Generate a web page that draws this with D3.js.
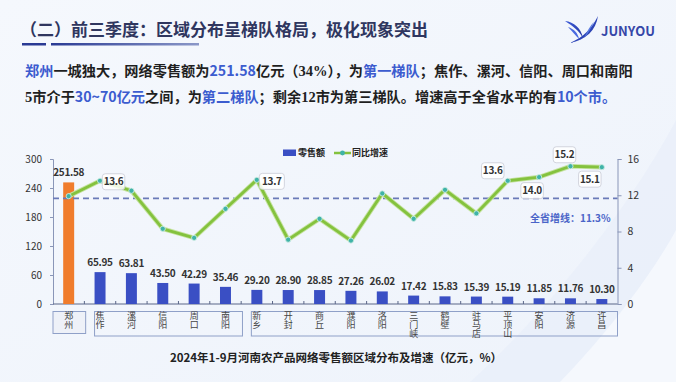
<!DOCTYPE html>
<html><head><meta charset="utf-8">
<script src="https://cdn.jsdelivr.net/npm/d3@7"></script>
<style>
html,body{margin:0;padding:0;background:#f3f7fd;}
svg{display:block;}
text{font-family:"Noto Sans CJK SC","Noto Sans",sans-serif;}
</style></head>
<body>
<svg id="chart" width="676" height="382"></svg>
<script>
// ---------------- data ----------------
const cities = ["郑州","焦作","漯河","信阳","周口","南阳","新乡","开封","商丘","濮阳","洛阳","三门峡","鹤壁","驻马店","平顶山","安阳","济源","许昌"];
const retail = [251.58,65.95,63.81,43.50,42.29,35.46,29.20,28.90,28.85,27.26,26.02,17.42,15.83,15.39,15.19,11.85,11.76,10.30];
const growth = [11.9,13.6,12.5,8.3,7.3,10.5,13.7,7.1,9.4,7.0,12.2,9.4,12.6,10.0,13.6,14.0,15.2,15.1];
const leftTicks = [0,60,120,180,240,300];
const rightTicks = [0,4,8,12,16];
const avgLineLevel = 11.65;          // position of the dashed provincial line as drawn
const avgLabel = "全省增线：11.3%";
const tierGroups = [[0,0],[1,5],[6,17]];
const labelledGrowth = [1,6,14,15,16,17]; // indices with callout labels
const chartTitle = "2024年1-9月河南农产品网络零售额区域分布及增速（亿元，%）";
const heading = "（二）前三季度：区域分布呈梯队格局，极化现象突出";
const legendNames = ["零售额","同比增速"];

// ---------------- layout ----------------
const svg = d3.select("#chart");
const L = 53, R = 617.5, T = 159, B = 304;

// background
const defs = svg.append("defs");
const bg = defs.append("linearGradient").attr("id","bg").attr("x1","0").attr("y1","0").attr("x2","1").attr("y2","1");
bg.append("stop").attr("offset","0").attr("stop-color","#f5f8fd");
bg.append("stop").attr("offset","1").attr("stop-color","#eef3fb");
svg.append("rect").attr("width",676).attr("height",382).attr("fill","url(#bg)");
svg.append("path").attr("d","M470,382 C560,300 640,190 676,120 L676,382 Z").attr("fill","#e8eef9").attr("opacity",0.7);
svg.append("path").attr("d","M560,382 C620,320 660,260 676,230 L676,382 Z").attr("fill","#f8fafe").attr("opacity",0.8);

// heading
svg.append("text").attr("x",20).attr("y",35.5).attr("font-size",17).attr("font-weight",700)
  .attr("fill","#2f365f").text(heading);
const ul = defs.append("linearGradient").attr("id","ul");
ul.append("stop").attr("offset","0").attr("stop-color","#2a3a94");
ul.append("stop").attr("offset","1").attr("stop-color","#8b98c8");
svg.append("rect").attr("x",22).attr("y",43).attr("width",24).attr("height",2.5).attr("fill","#2a3a94");
svg.append("rect").attr("x",51).attr("y",43).attr("width",148).attr("height",2.5).attr("fill","url(#ul)");

// logo
const lg = defs.append("linearGradient").attr("id","lg").attr("x1","0").attr("y1","0").attr("x2","1").attr("y2","1");
lg.append("stop").attr("offset","0").attr("stop-color","#3a5ad8");
lg.append("stop").attr("offset","1").attr("stop-color","#2536a0");
svg.append("path").attr("d","M565,21 C574,22 581,28 583,38 C579,31 573,26 565,21 Z").attr("fill","url(#lg)");
svg.append("path").attr("d","M568,27 C574,29 578,33 579,39 C575,35 572,31 568,27 Z").attr("fill","#4a6ae0");
svg.append("path").attr("d","M598,16 C596,30 586,40 570,43 C584,37 592,28 598,16 Z").attr("fill","url(#lg)");
svg.append("path").attr("d","M594,22 C590,30 588,34 584,38 C588,30 590,26 594,22 Z").attr("fill","#5878e0");
svg.append("text").attr("x",601).attr("y",35.5).attr("font-family","Roboto, 'DejaVu Sans', sans-serif")
  .attr("font-size",13).attr("font-weight",700).attr("fill","#3647a8").text("JUNYOU");

// paragraph
const BLUE = "#3c5ccf", DARK = "#1f1f1f";
const para = [
  [["郑州",BLUE],["一城独大，网络零售额为",DARK],["251.58",BLUE],["亿元（",DARK],["34%",DARK,"serif"],["），为",DARK],["第一梯队",BLUE],["；焦作、漯河、信阳、周口和南阳",DARK]],
  [["5",DARK,"serif"],["市介于",DARK],["30~70亿元",BLUE],["之间，为",DARK],["第二梯队",BLUE],["；剩余",DARK],["12",DARK,"serif"],["市为第三梯队。增速高于全省水平的有",DARK],["10个市。",BLUE]]
];
para.forEach((line,i)=>{
  const t = svg.append("text").attr("x",25).attr("y",76 + i*25.7).attr("font-size",14.2).attr("font-weight",700);
  line.forEach(s=>{
    const sp = t.append("tspan").attr("fill",s[1]).text(s[0]);
    if(s[2]==="serif") sp.attr("font-family","'Liberation Serif', serif").attr("font-size",14.5);
  });
});

// ---------------- scales ----------------
const x = d3.scaleBand().domain(cities).range([L,R]).paddingInner(0.65).paddingOuter(0.325);
const yL = d3.scaleLinear().domain([0,300]).range([B,T]);
const yR = d3.scaleLinear().domain([0,16]).range([B,T]);
const cx = c => x(c) + x.bandwidth()/2;

// axes
const AX = "#8a96b8";
const gl = svg.append("g").attr("transform",`translate(${L},0)`).call(d3.axisLeft(yL).tickValues(leftTicks).tickSize(3).tickPadding(8));
gl.select(".domain").attr("stroke",AX);
gl.selectAll(".tick line").attr("stroke",AX);
gl.selectAll(".tick text").attr("font-size",10).attr("fill","#333").attr("font-family","'DejaVu Sans', sans-serif");

const gr = svg.append("g").attr("transform",`translate(${R},0)`).call(d3.axisRight(yR).tickValues(rightTicks).tickSize(4).tickPadding(6));
gr.select(".domain").attr("stroke",AX);
gr.selectAll(".tick line").attr("stroke",AX);
gr.selectAll(".tick text").attr("font-size",10.5).attr("fill","#333").attr("font-family","'Liberation Serif', serif");

// bottom axis line + category boundary ticks
svg.append("line").attr("x1",L).attr("x2",R).attr("y1",B).attr("y2",B).attr("stroke","#5a6688").attr("stroke-width",1.2);
svg.append("g").selectAll("line").data(cities.slice(1)).join("line")
  .attr("x1",d=>x(d)-x.step()*x.paddingInner()/2).attr("x2",d=>x(d)-x.step()*x.paddingInner()/2)
  .attr("y1",B).attr("y2",B-3).attr("stroke","#5a6688");

// bars
svg.append("g").selectAll("rect").data(cities).join("rect")
  .attr("x",d=>x(d)).attr("width",x.bandwidth())
  .attr("y",(d,i)=>yL(retail[i])).attr("height",(d,i)=>B-yL(retail[i]))
  .attr("fill",(d,i)=>i===0?"#f07c2c":"#3a4fc4");
svg.append("g").selectAll("text").data(cities).join("text")
  .attr("x",d=>cx(d)).attr("y",(d,i)=>yL(retail[i])-6).attr("text-anchor","middle")
  .attr("font-size",10).attr("font-weight",700).attr("fill","#333")
  .attr("font-family","'DejaVu Sans', sans-serif").attr("letter-spacing","-0.3")
  .text((d,i)=>retail[i].toFixed(2));

// dashed provincial line
svg.append("line").attr("x1",L).attr("x2",R).attr("y1",yR(avgLineLevel)).attr("y2",yR(avgLineLevel))
  .attr("stroke","#6a7ab8").attr("stroke-width",1.6).attr("stroke-dasharray","6,4");
svg.append("text").attr("x",530).attr("y",222).attr("font-size",10).attr("font-weight",700)
  .attr("fill","#4a64c8").text(avgLabel);

// growth line
const line = d3.line().x(d=>cx(d)).y((d,i)=>yR(growth[i]));
svg.append("path").datum(cities).attr("d",line).attr("fill","none").attr("stroke","#c5e3a0").attr("stroke-width",4.6).attr("stroke-linejoin","round");
svg.append("path").datum(cities).attr("d",line).attr("fill","none").attr("stroke","#84c23e").attr("stroke-width",2.8).attr("stroke-linejoin","round");
svg.append("g").selectAll("circle").data(cities).join("circle")
  .attr("cx",d=>cx(d)).attr("cy",(d,i)=>yR(growth[i])).attr("r",2.6)
  .attr("fill","#3fb3a8").attr("stroke","#d8f0e8").attr("stroke-width",0.8);

// callouts (offset of box centre from point)
const calloutOffset = {1:[13.5,1],6:[15,1.5],14:[-15,-10],15:[-7,13.5],16:[-6,-11.5],17:[-12,12]};
labelledGrowth.forEach(i=>{
  const px = cx(cities[i]), py = yR(growth[i]);
  const [dx,dy] = calloutOffset[i];
  const w = i===6?25:22.5, h = 16;
  const g = svg.append("g");
  g.append("rect").attr("x",px+dx-w/2).attr("y",py+dy-h/2).attr("width",w).attr("height",h).attr("rx",3)
    .attr("fill","#ffffff").attr("fill-opacity",0.85).attr("stroke","#c9ccd6").attr("stroke-width",0.8);
  g.append("text").attr("x",px+dx).attr("y",py+dy+3.6).attr("text-anchor","middle")
    .attr("font-size",10).attr("font-weight",700).attr("fill","#333")
    .attr("font-family","'DejaVu Sans', sans-serif").attr("letter-spacing","-0.3")
    .text(growth[i].toFixed(1));
});

// legend
svg.append("rect").attr("x",283).attr("y",149.5).attr("width",13).attr("height",6.5).attr("fill","#3a4fc4");
svg.append("text").attr("x",298).attr("y",156).attr("font-size",9).attr("font-weight",700).attr("fill","#222").text(legendNames[0]);
svg.append("line").attr("x1",334).attr("x2",351).attr("y1",153).attr("y2",153).attr("stroke","#84c23e").attr("stroke-width",2.5);
svg.append("circle").attr("cx",342.5).attr("cy",153).attr("r",2.4).attr("fill","#3fb3a8");
svg.append("text").attr("x",352).attr("y",156).attr("font-size",9).attr("font-weight",700).attr("fill","#222").text(legendNames[1]);

// tier boxes under the axis
const half = x.step()*x.paddingInner()/2;
tierGroups.forEach(([s,e],gi)=>{
  const left = gi===0 ? L : x(cities[s]);
  const right = gi===tierGroups.length-1 ? R : x(cities[e]) + x.bandwidth() + half + 1.3;
  svg.append("rect").attr("x",left).attr("y",311.5).attr("width",right-left).attr("height",gi===0?22:24.5)
    .attr("fill", gi===0?"#eef1f8":"none").attr("stroke","#8fa0c8").attr("stroke-width",1);
});
// vertical (stacked) category labels
svg.append("g").selectAll("text").data(cities).join("text")
  .attr("x",d=>cx(d)).attr("y",311)
  .style("writing-mode","vertical-rl")
  .attr("font-size",9).attr("fill","#444")
  .text(d=>d);

// chart title
svg.append("text").attr("x",336).attr("y",362).attr("text-anchor","middle").attr("font-size",11.5)
  .attr("font-weight",700).attr("fill","#222").text(chartTitle);
</script>
</body></html>
